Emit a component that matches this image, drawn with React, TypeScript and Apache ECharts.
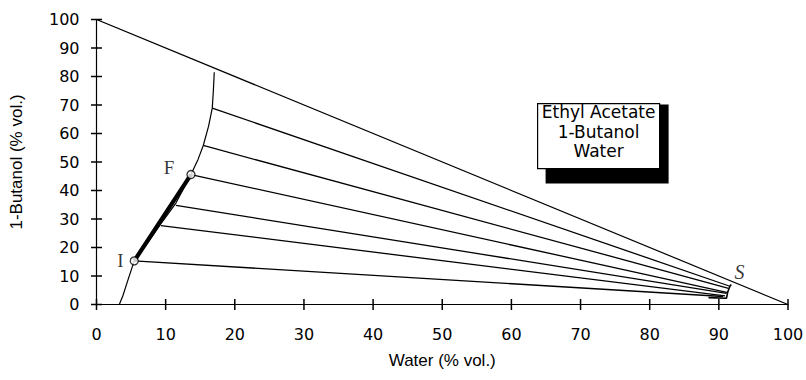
import React, { useEffect, useRef } from "react";
import * as echarts from "echarts";

// ---- data (% vol.) ----
const tickValues: number[] = [0, 10, 20, 30, 40, 50, 60, 70, 80, 90, 100];
const hypotenuse: number[][] = [[0, 100], [100, 0]];
const binodalLeft: number[][] = [
  [3.3, 0], [3.8, 3], [4.6, 9], [5.46, 15.3], [7.5, 22], [9.32, 28.4],
  [11.49, 35.6], [13.66, 45.6], [14.7, 51], [15.44, 55.8], [16.2, 62.5],
  [16.74, 68.9], [16.9, 75], [17.03, 81.5],
];
const binodalRight: number[][] = [[91.8, 7.0], [91.6, 6.4], [91.3, 4.5], [91.1, 2.2], [88.5, 2.4]];
const tieLeft: number[][] = [
  [16.74, 68.9], [15.44, 55.8], [13.66, 45.6], [11.49, 34.8], [9.32, 27.7], [5.46, 15.3],
];
const tieRight: number[][] = [
  [91.6, 6.4], [91.4, 5.7], [91.3, 4.2], [91.1, 3.9], [90.9, 3.0], [90.6, 2.8],
];
const feedLine: number[][] = [[5.46, 15.3], [13.66, 45.6]];
const pointI: number[] = [5.46, 15.3];
const pointF: number[] = [13.66, 45.6];
const pointS: number[] = [93.0, 11.5];
const legendLines: string[] = ["Ethyl Acetate", "1-Butanol", "Water"];
const xTitle = "Water (% vol.)";
const yTitle = "1-Butanol (% vol.)";

const BLACK = "#000";
const TICK_FONT = "DejaVu Sans";
const TITLE_FONT = "Liberation Sans";
const SERIF = "Liberation Serif";

export default function App() {
  const ref = useRef<HTMLDivElement>(null);

  useEffect(() => {
    if (!ref.current) return;
    const chart = echarts.init(ref.current, undefined, { renderer: "svg" });

    const lineSeries = (data: number[][], width: number, z = 2) => ({
      type: "line",
      data,
      symbol: "none",
      silent: true,
      z,
      lineStyle: { color: BLACK, width },
    });

    const tieSeries = tieLeft.map((l, i) => lineSeries([l, tieRight[i]], 1.3));

    const markerSeries = (pt: number[], text: string, distance: number, offset: number[]) => ({
      type: "scatter",
      data: [pt],
      symbol: "circle",
      symbolSize: 8,
      z: 10,
      itemStyle: { color: "#fff", borderColor: BLACK, borderWidth: 1.3 },
      label: {
        show: true,
        formatter: text,
        position: "left",
        distance,
        offset,
        color: BLACK,
        fontFamily: SERIF,
        fontSize: 19,
      },
    });

    // crossing tick marks drawn through the axes' scales
    const tickSeries = (horizontal: boolean) => ({
      type: "custom",
      coordinateSystem: "cartesian2d",
      silent: true,
      clip: false,
      z: 20,
      data: tickValues.map((v) => (horizontal ? [v, 0] : [0, v])),
      renderItem: (_params: any, api: any) => {
        const p = api.coord([api.value(0), api.value(1)]);
        const h = 5.5;
        const shape = horizontal
          ? { x1: p[0], y1: p[1] - h, x2: p[0], y2: p[1] + h }
          : { x1: p[0] - h, y1: p[1], x2: p[0] + h, y2: p[1] };
        return { type: "line", shape, style: { stroke: BLACK, lineWidth: 1.5 } };
      },
    });

    const valueAxisBase = {
      type: "value",
      min: 0,
      max: 100,
      interval: 10,
      splitLine: { show: false },
      axisTick: { show: false },
    };

    chart.setOption({
      animation: false,
      backgroundColor: "#fff",
      grid: {
        left: 96.5,
        right: 18,
        top: 19.5,
        bottom: 75.5,
        containLabel: false,
        outerBoundsMode: "none",
      },
      xAxis: {
        ...valueAxisBase,
        position: "bottom",
        axisLine: { show: true, onZero: false, lineStyle: { color: BLACK, width: 1.2 } },
        axisLabel: { color: BLACK, fontSize: 16, fontFamily: TICK_FONT, margin: 22 },
        name: xTitle,
        nameLocation: "middle",
        nameGap: 47,
        nameTextStyle: { color: BLACK, fontSize: 17, fontFamily: TITLE_FONT },
      },
      yAxis: {
        ...valueAxisBase,
        position: "left",
        axisLine: { show: true, onZero: false, lineStyle: { color: BLACK, width: 1.2 } },
        axisLabel: { color: BLACK, fontSize: 16, fontFamily: TICK_FONT, margin: 17 },
        name: yTitle,
        nameLocation: "middle",
        nameGap: 72,
        nameTextStyle: { color: BLACK, fontSize: 17, fontFamily: TITLE_FONT },
      },
      series: [
        tickSeries(true),
        tickSeries(false),
        lineSeries(hypotenuse, 1.2),
        lineSeries(binodalLeft, 1.2),
        lineSeries(binodalRight, 1.6),
        ...tieSeries,
        lineSeries(feedLine, 4.2, 5),
        markerSeries(pointI, "I", 6, [0, 0]),
        markerSeries(pointF, "F", 12, [0, -7]),
        {
          type: "scatter",
          data: [pointS],
          symbolSize: 1,
          itemStyle: { color: "rgba(0,0,0,0)" },
          label: {
            show: true,
            formatter: "S",
            position: "inside",
            color: BLACK,
            fontFamily: SERIF,
            fontStyle: "italic",
            fontSize: 20,
          },
        },
      ],
      graphic: [
        {
          type: "group",
          left: 537,
          top: 103,
          children: [
            { type: "rect", shape: { x: 8, y: 1, width: 123, height: 79 }, style: { fill: BLACK } },
            {
              type: "rect",
              shape: { x: 0, y: 0, width: 122, height: 65 },
              style: { fill: "#fff", stroke: BLACK, lineWidth: 1.2 },
            },
            ...legendLines.map((t, i) => ({
              type: "text",
              x: 61,
              y: 8.5 + i * 19.5,
              style: {
                text: t,
                fill: BLACK,
                font: `17px "${TICK_FONT}"`,
                textAlign: "center",
                textVerticalAlign: "middle",
              },
            })),
          ],
        },
      ],
    });

    return () => chart.dispose();
  }, []);

  return (
    <div
      ref={ref}
      style={{ position: "fixed", left: 0, top: 0, width: 806, height: 380, background: "#fff" }}
    />
  );
}
